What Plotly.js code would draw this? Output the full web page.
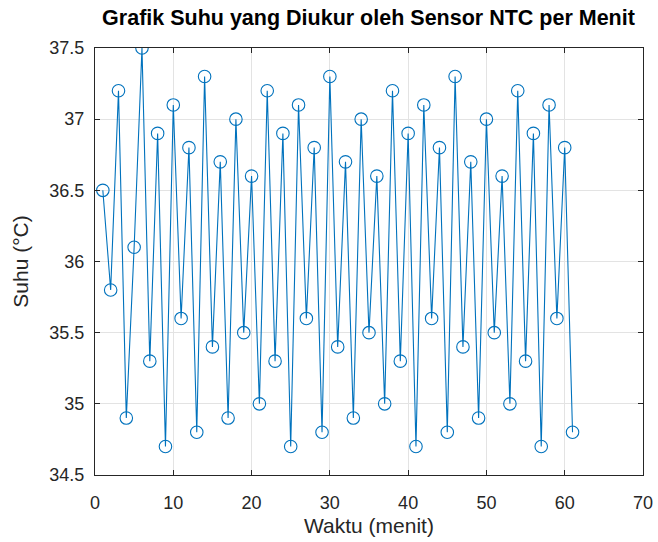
<!DOCTYPE html>
<html>
<head>
<meta charset="utf-8">
<script src="https://cdn.plot.ly/plotly-3.0.1.min.js"></script>
<style>html,body{margin:0;padding:0;background:#fff;}#chart{width:658px;height:542px;}</style>
</head>
<body>
<div id="chart"></div>
<script>
const minutes = [1,2,3,4,5,6,7,8,9,10,11,12,13,14,15,16,17,18,19,20,21,22,23,24,25,26,27,28,29,30,31,32,33,34,35,36,37,38,39,40,41,42,43,44,45,46,47,48,49,50,51,52,53,54,55,56,57,58,59,60,61];
const temps = [36.5,35.8,37.2,34.9,36.1,37.5,35.3,36.9,34.7,37.1,35.6,36.8,34.8,37.3,35.4,36.7,34.9,37.0,35.5,36.6,35.0,37.2,35.3,36.9,34.7,37.1,35.6,36.8,34.8,37.3,35.4,36.7,34.9,37.0,35.5,36.6,35.0,37.2,35.3,36.9,34.7,37.1,35.6,36.8,34.8,37.3,35.4,36.7,34.9,37.0,35.5,36.6,35.0,37.2,35.3,36.9,34.7,37.1,35.6,36.8,34.8];
const xTicks = [0,10,20,30,40,50,60,70];
const yTicks = [34.5,35,35.5,36,36.5,37,37.5];

const font = 'Liberation Sans, Arial, Helvetica, sans-serif';
const axisCommon = {
  showline: true, linecolor: '#262626', linewidth: 1, mirror: 'allticks',
  ticks: 'inside', ticklen: 5, tickcolor: '#262626', tickwidth: 1,
  showgrid: true, gridcolor: '#e3e3e3', gridwidth: 1, zeroline: false,
  tickfont: {family: font, size: 18, color: '#262626'}
};

Plotly.newPlot('chart', [{
  x: minutes, y: temps, type: 'scatter', mode: 'lines+markers',
  line: {color: '#0072BD', width: 1.1},
  marker: {symbol: 'circle-open', size: 12.5, color: '#0072BD', line: {width: 1.1, color: '#0072BD'}},
  hoverinfo: 'x+y'
}], {
  width: 658, height: 542,
  margin: {l: 95, r: 15, t: 48, b: 67},
  paper_bgcolor: '#fff', plot_bgcolor: '#fff',
  showlegend: false,
  title: {text: '<b>Grafik Suhu yang Diukur oleh Sensor NTC per Menit</b>', font: {family: font, size: 21.5, color: '#000'}, x: 0.56, xanchor: 'center', y: 0.968, yanchor: 'middle'},
  xaxis: Object.assign({}, axisCommon, {range: [0, 70], tickvals: xTicks, ticktext: xTicks.map(String), ticklabelstandoff: 11,
    title: {text: 'Waktu (menit)', font: {family: font, size: 21, color: '#262626'}, standoff: 6}}),
  yaxis: Object.assign({}, axisCommon, {range: [34.5, 37.5], tickvals: yTicks, ticktext: yTicks.map(v => String(v)), ticklabelstandoff: 6,
    title: {text: 'Suhu (°C)', font: {family: font, size: 21, color: '#262626'}, standoff: 15}})
}, {displayModeBar: false, staticPlot: true});
</script>
</body>
</html>
